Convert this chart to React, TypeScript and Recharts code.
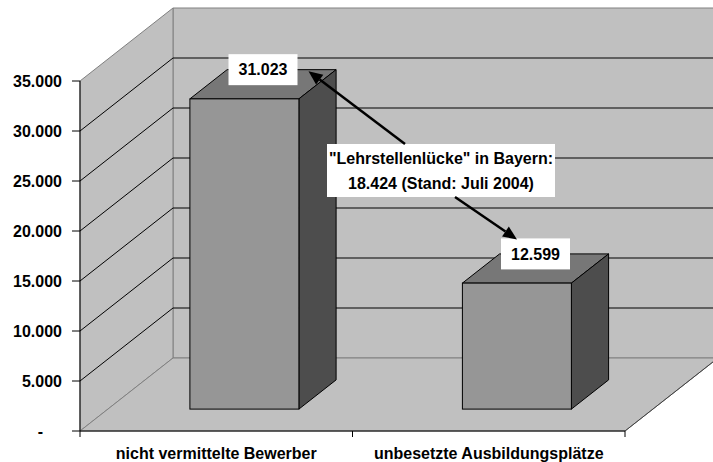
import { BarChart, Bar, XAxis, YAxis, CartesianGrid, LabelList } from "recharts";

const categories = ["nicht vermittelte Bewerber", "unbesetzte Ausbildungsplätze"];
const values = [31023, 12599];
const yTicks = [0, 5000, 10000, 15000, 20000, 25000, 30000, 35000];
const noteLines = ['"Lehrstellenlücke" in Bayern:', "18.424 (Stand: Juli 2004)"];

const data = categories.map((name, i) => ({ name, value: values[i] }));

const W = 713;
const H = 462;
const PLOT_W = 545;
// depth of the 3D room, the bars sit between 30% and 70% of it
const DX = 93;
const DY = 73;
const FONT = '"Liberation Sans", Arial, sans-serif';
const NOTE = { x: 327, y: 144, width: 228, height: 53 };

const fmt = (v: number) =>
  v === 0 ? "-" : String(v).replace(/\B(?=(\d{3})+(?!\d))/g, ".");

function GridLine(props: any) {
  const { x1, y1, x2, index, x, y, width, height } = props;
  const bottom = y + height;
  const walls =
    index === 0 ? (
      <g fill="#C0C0C0" stroke="#808080" strokeWidth={1}>
        <polygon points={`${x + DX},${y - DY} ${x + width + DX},${y - DY} ${x + width + DX},${bottom - DY} ${x + DX},${bottom - DY}`} />
        <polygon points={`${x},${bottom} ${x},${y} ${x + DX},${y - DY} ${x + DX},${bottom - DY}`} />
        <polygon points={`${x},${bottom} ${x + width},${bottom} ${x + width + DX},${bottom - DY} ${x + DX},${bottom - DY}`} />
        <line x1={x + width} y1={bottom} x2={x + width + DX} y2={bottom - DY} stroke="#404040" />
      </g>
    ) : null;
  const inner = Math.abs(y1 - bottom) > 1 && Math.abs(y1 - y) > 1;
  return (
    <g key={`grid-${index}`}>
      {walls}
      {inner && (
        <g stroke="#000" strokeWidth={1}>
          <line x1={x1} y1={y1} x2={x1 + DX} y2={y1 - DY} />
          <line x1={x1 + DX} y1={y1 - DY} x2={x2 + DX} y2={y1 - DY} />
        </g>
      )}
    </g>
  );
}

function Box(props: any) {
  const { x, y, width, height } = props;
  const fx = x + DX * 0.3;
  const fy = y - DY * 0.3;
  const dx = DX * 0.4;
  const dy = DY * 0.4;
  const fb = fy + height;
  return (
    <g stroke="#000" strokeWidth={1}>
      <polygon
        points={`${fx},${fy} ${fx + dx},${fy - dy} ${fx + width + dx},${fy - dy} ${fx + width},${fy}`}
        fill="#777777"
      />
      <polygon
        points={`${fx + width},${fy} ${fx + width + dx},${fy - dy} ${fx + width + dx},${fb - dy} ${fx + width},${fb}`}
        fill="#4D4D4D"
      />
      <rect x={fx} y={fy} width={width} height={height} fill="#969696" />
    </g>
  );
}

function arrow(x1: number, y1: number, x2: number, y2: number) {
  const a = Math.atan2(y2 - y1, x2 - x1);
  const len = 14;
  const half = 6;
  const bx = x2 - len * Math.cos(a);
  const by = y2 - len * Math.sin(a);
  const px = -Math.sin(a) * half;
  const py = Math.cos(a) * half;
  return (
    <g>
      <line x1={x1} y1={y1} x2={bx} y2={by} stroke="#000" strokeWidth={2.5} />
      <polygon points={`${x2},${y2} ${bx + px},${by + py} ${bx - px},${by - py}`} fill="#000" />
    </g>
  );
}

function ValueLabel(props: any) {
  const { x, y, width, value, index } = props;
  const cx = x + width / 2 + DX * 0.5;
  const cy = y - DY * 0.7;
  const bw = 69;
  const bh = 31;
  return (
    <g>
      {index === 0 && (
        <g>
          <rect x={NOTE.x} y={NOTE.y} width={NOTE.width} height={NOTE.height} fill="#fff" />
          {noteLines.map((t, i) => (
            <text
              key={t}
              x={NOTE.x + NOTE.width / 2}
              y={NOTE.y + 14 + i * 25}
              dy="0.35em"
              textAnchor="middle"
              fontFamily={FONT}
              fontWeight="bold"
              fontSize={16}
              fill="#000"
            >
              {t}
            </text>
          ))}
        </g>
      )}
      <rect x={cx - bw / 2} y={cy - bh / 2} width={bw} height={bh} fill="#fff" />
      <text
        x={cx}
        y={cy}
        dy="0.35em"
        textAnchor="middle"
        fontFamily={FONT}
        fontWeight="bold"
        fontSize={16}
        fill="#000"
      >
        {fmt(value)}
      </text>
      {index === 0 && arrow(NOTE.x + 78, NOTE.y, cx + bw / 2 + 11, cy + 1.5)}
      {index === 1 && arrow(NOTE.x + 128, NOTE.y + NOTE.height, cx - bw / 2 + 16, cy - bh / 2 + 1)}
    </g>
  );
}

function YTick(props: any) {
  const { x, y, payload } = props;
  const zero = payload.value === 0;
  return (
    <text
      x={zero ? x - 19 : x}
      y={y}
      dy="0.35em"
      textAnchor="end"
      fontFamily={FONT}
      fontWeight="bold"
      fontSize={16}
      fill="#000"
    >
      {fmt(payload.value)}
    </text>
  );
}

function XTick(props: any) {
  const { x, y, payload, index } = props;
  const band = PLOT_W / categories.length;
  return (
    <g>
      <line x1={x - band / 2} y1={y} x2={x - band / 2} y2={y + 6} stroke="#000" />
      {index === categories.length - 1 && (
        <line x1={x + band / 2} y1={y} x2={x + band / 2} y2={y + 6} stroke="#000" />
      )}
      <text
        x={x}
        y={y + 22}
        dy="0.35em"
        textAnchor="middle"
        fontFamily={FONT}
        fontWeight="bold"
        fontSize={16}
        fill="#000"
      >
        {payload.value}
      </text>
    </g>
  );
}

export default function App() {
  return (
    <div style={{ position: "absolute", left: 0, top: 0, background: "#fff" }}>
      <BarChart
        width={W}
        height={H}
        data={data}
        margin={{ top: 81, right: 88, bottom: 0, left: 0 }}
      >
        <CartesianGrid vertical={false} horizontal={GridLine} />
        <XAxis
          dataKey="name"
          height={31}
          tick={XTick}
          tickLine={false}
          tickSize={0}
          tickMargin={0}
          axisLine={{ stroke: "#000" }}
          interval={0}
        />
        <YAxis
          width={80}
          domain={[0, 35000]}
          ticks={yTicks}
          interval={0}
          tick={YTick}
          tickSize={8}
          tickMargin={10}
          tickLine={{ stroke: "#000" }}
          axisLine={{ stroke: "#000" }}
        />
        <Bar dataKey="value" barSize={109} shape={Box} isAnimationActive={false}>
          <LabelList dataKey="value" content={ValueLabel} />
        </Bar>
      </BarChart>
    </div>
  );
}
